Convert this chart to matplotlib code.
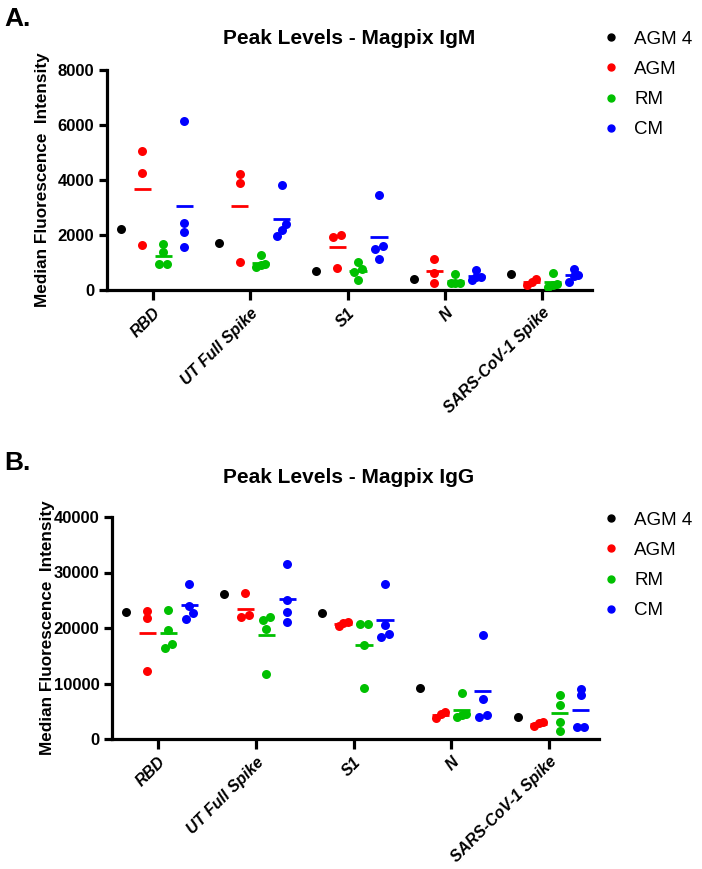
import numpy as np
import matplotlib
matplotlib.use('Agg')
from matplotlib import pyplot as plt
from matplotlib.lines import Line2D

plt.rcParams['font.family'] = ['Liberation Sans', 'DejaVu Sans']

antigens = ['RBD', 'UT Full Spike', 'S1', 'N', 'SARS-CoV-1 Spike']
groups = ['AGM 4', 'AGM', 'RM', 'CM']
colors = ['#000000', '#FF0000', '#00C000', '#0000FF']

# panel A - IgM
igm_agm4 = [[2230], [1720], [680], [400], [570]]
igm_agm = [[5055, 4267, 1648], [4218, 3879, 1018], [2012, 1915, 800],
           [1139, 630, 255], [182, 388, 303]]
igm_rm = [[1673, 1394, 933, 933], [1261, 850, 920, 940], [1018, 764, 642, 364],
          [594, 242, 267, 250], [606, 182, 218, 110]]
igm_cm = [[6145, 2448, 2121, 1564], [3818, 2388, 1964, 2182], [3467, 1600, 1479, 1115],
          [727, 364, 461, 480], [780, 300, 500, 560]]

# panel B - IgG
igg_agm4 = [[22970], [26160], [22740], [9100], [3950]]
igg_agm = [[23150, 21780, 12290], [26280, 21900, 22320], [20400, 21060, 20880],
           [3800, 4500, 4800], [2300, 2800, 3000]]
igg_rm = [[23330, 19680, 17100, 16310], [21480, 22020, 19860, 11750],
          [20700, 20760, 16920, 9100], [8200, 4500, 4000, 4350], [7960, 6160, 3150, 1480]]
igg_cm = [[27910, 24050, 22670, 21600], [31510, 25080, 22970, 21170],
          [27840, 20460, 18290, 18830], [18720, 7190, 4050, 4360], [9050, 7840, 2140, 2140]]

W, H = 702, 869


def spread(vals, px_per_unit, px_per_cat, thr=6.0):
    # simple swarm: points whose values sit close together get pushed sideways
    vals = np.asarray(vals, float)
    order = np.argsort(vals)
    offs = np.zeros(len(vals))
    clusters = [[order[0]]]
    for i in order[1:]:
        if (vals[i] - vals[clusters[-1][-1]]) * px_per_unit < thr:
            clusters[-1].append(i)
        else:
            clusters.append([i])
    for c in clusters:
        n = len(c)
        step = 7.5 if n == 2 else 4.5
        for k, i in enumerate(c):
            offs[i] = (k - (n - 1) / 2) * step / px_per_cat
    return offs


def panel(rect, data, ymax, ystep, title, title_y, letter, letter_y, legend_top):
    ax = fig.add_axes(rect)
    xlim = (-0.47, 4.51)
    ax.set_xlim(*xlim)
    ax.set_ylim(0, ymax)
    ax_w = rect[2] * W
    ax_h = rect[3] * H
    px_per_cat = ax_w / (xlim[1] - xlim[0])
    px_per_unit = ax_h / ymax
    shifts = np.array([-1.5, -0.5, 0.5, 1.5]) * 0.215
    for g, (series, col) in enumerate(zip(data, colors)):
        for c, vals in enumerate(series):
            x0 = c + shifts[g]
            offs = spread(vals, px_per_unit, px_per_cat)
            ax.scatter(x0 + offs, vals, s=42, color=col, zorder=3, linewidths=0)
            if len(vals) > 1:
                m = np.mean(vals)
                ax.plot([x0 - 0.088, x0 + 0.088], [m, m], color=col, lw=2, zorder=2,
                        solid_capstyle='butt')
    for s in ['top', 'right']:
        ax.spines[s].set_visible(False)
    for s in ['left', 'bottom']:
        ax.spines[s].set_linewidth(2.3)
    ax.set_yticks(np.arange(0, ymax + 1, ystep))
    ax.set_xticks(range(len(antigens)))
    ax.set_xticklabels(antigens, rotation=45, ha='right', rotation_mode='anchor',
                       fontweight='bold', fontstyle='italic', fontsize=11.5)
    ax.tick_params(axis='x', length=7, width=2.3, pad=4)
    ax.tick_params(axis='y', length=6, width=2.3, pad=3, labelsize=12)
    for lab in ax.get_yticklabels():
        lab.set_fontweight('bold')
    ax.set_ylabel('Median Fluorescence  Intensity', fontsize=12.3, fontweight='bold')
    ax.yaxis.set_label_coords(-0.118, 0.5)
    fig.text(349 / W, title_y, title, fontsize=15, fontweight='bold',
             ha='center', va='center')
    fig.text(0.006, letter_y, letter, fontsize=19, fontweight='bold', va='center')
    handles = [Line2D([], [], ls='', marker='o', ms=5, color=c) for c in colors]
    fig.legend(handles, groups, loc='upper left', bbox_to_anchor=(0.849, legend_top),
               frameon=False, fontsize=13.5, handlelength=0.8, handletextpad=0.85,
               labelspacing=0.7, borderaxespad=0)
    return ax


fig = plt.figure(figsize=(W / 100, H / 100), dpi=100)

panel([107 / W, 1 - 290 / H, (592 - 107) / W, 220 / H],
      [igm_agm4, igm_agm, igm_rm, igm_cm], 8000, 2000,
      'Peak Levels - Magpix IgM', 1 - 38 / H, 'A.', 1 - 19 / H, 1 - 23 / H)
panel([112 / W, 1 - 739 / H, (599 - 112) / W, 222 / H],
      [igg_agm4, igg_agm, igg_rm, igg_cm], 40000, 10000,
      'Peak Levels - Magpix IgG', 1 - 478 / H, 'B.', 1 - 463 / H, 1 - 504 / H)

fig.savefig('out.png', dpi=100)
